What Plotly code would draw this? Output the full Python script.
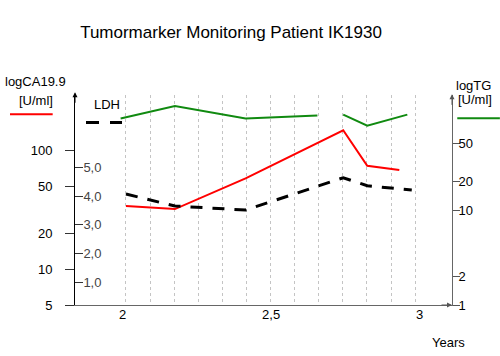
import plotly.graph_objects as go

# ---- data ----
ca_years = [2.011, 2.176, 2.414, 2.743, 2.824, 2.932]
ca_values = [34, 32, 58, 147, 74, 68]

ldh_years = [2.011, 2.176, 2.414, 2.743, 2.824, 2.974]
ldh_values = [4.08, 3.66, 3.52, 4.65, 4.37, 4.22]

tg_years = [1.993, 2.176, 2.414, 2.656, None, 2.743, 2.824, 2.959]
tg_values = [92, 124, 92, 99, None, 101, 77, 101]

grid_years = [2.011, 2.092, 2.173, 2.255, 2.336, 2.417, 2.498,
              2.579, 2.661, 2.742, 2.823, 2.904, 2.985]

x_ticks = [2, 2.5, 3]
ca_ticks = [5, 10, 20, 50, 100]
ldh_ticks = [1, 2, 3, 4, 5]
tg_ticks = [1, 2, 10, 20, 50]

FONT = "Liberation Sans, Arial, sans-serif"

fig = go.Figure()
fig.add_trace(go.Scatter(x=ca_years, y=ca_values, mode="lines",
                         line=dict(color="#ff0000", width=2), yaxis="y"))
fig.add_trace(go.Scatter(x=ldh_years, y=ldh_values, mode="lines",
                         line=dict(color="#000000", width=3, dash="12px,10px"), yaxis="y2"))
fig.add_trace(go.Scatter(x=tg_years, y=tg_values, mode="lines", connectgaps=False,
                         line=dict(color="#108a10", width=2), yaxis="y3"))

fig.update_layout(
    width=500, height=356,
    margin=dict(l=75, r=48, t=95, b=51),
    paper_bgcolor="white", plot_bgcolor="white",
    showlegend=False,
    separators=",.",
    font=dict(family=FONT, size=13, color="black"),
    title=dict(text="Tumormarker Monitoring Patient IK1930", x=0.462, xref="container",
               xanchor="center", y=0.91, yref="container", yanchor="middle",
               font=dict(size=17, family=FONT, color="black")),
    xaxis=dict(range=[1.8393, 3.1095], tickmode="array", tickvals=x_ticks,
               ticks="", showgrid=False, zeroline=False,
               showline=True, linecolor="#666", linewidth=1,
               automargin=False, ticklabelstandoff=-3,
               minor=dict(tickmode="array", tickvals=grid_years, showgrid=True,
                          gridcolor="#c4c4c4", griddash="dot", gridwidth=1, ticks="")),
    yaxis=dict(type="log", range=[0.69897, 0.69897 + 210 / 119], tickmode="array",
               tickvals=ca_ticks, ticktext=[str(v) for v in ca_ticks],
               ticks="outside", ticklen=9, tickcolor="#333", showgrid=False,
               zeroline=False, showline=True, linecolor="#000", linewidth=1,
               automargin=False, ticklabelstandoff=10),
    yaxis2=dict(range=[0.2, 7.543], overlaying="y", side="left", anchor="x",
                tickmode="array", tickvals=ldh_ticks, tickformat=".1f",
                ticks="inside", ticklen=8, tickcolor="#333", ticklabelposition="inside",
                showgrid=False, zeroline=False, showline=False, automargin=False),
    yaxis3=dict(type="log", range=[0, 210 / 95], overlaying="y", side="right", anchor="x",
                tickmode="array", tickvals=tg_ticks, ticktext=[str(v) for v in tg_ticks],
                ticks="outside", ticklen=7, tickcolor="#555", showgrid=False,
                zeroline=False, showline=True, linecolor="#666", linewidth=1,
                automargin=False, ticklabelstandoff=-4),
)

# axis arrows
arrow = dict(xref="paper", yref="paper", text="", showarrow=True, arrowhead=2,
             arrowsize=1, arrowwidth=1, axref="pixel", ayref="pixel")
fig.add_annotation(x=0, y=1.013, ax=0, ay=12, arrowcolor="#000", **arrow)
fig.add_annotation(x=1, y=1.003, ax=0, ay=12, arrowcolor="#555", **arrow)
fig.add_annotation(x=1, y=0, ax=-12, ay=0, arrowcolor="#555", **arrow)

# legend-like labels
txt = dict(xref="paper", yref="paper", showarrow=False, xanchor="center",
           yanchor="middle", font=dict(size=13, family=FONT))
fig.add_annotation(x=-0.106, y=1.062, text="logCA19.9", **txt)
fig.add_annotation(x=-0.103, y=0.976, text="[U/ml]", **txt)
fig.add_annotation(x=0.0862, y=0.955, text="LDH", **txt)
fig.add_annotation(x=1.0576, y=1.043, text="logTG", **txt)
fig.add_annotation(x=1.061, y=0.979, text="[U/ml]", **txt)
fig.add_annotation(x=0.992, y=-0.1786, text="Years", **txt)

fig.add_shape(type="line", xref="paper", yref="paper", x0=-0.1724, x1=-0.0592,
              y0=0.908, y1=0.908, line=dict(color="#ff0000", width=2))
fig.add_shape(type="line", xref="paper", yref="paper", x0=0.0292, x1=0.1247,
              y0=0.869, y1=0.869, line=dict(color="#000", width=3, dash="13px,11px"))
fig.add_shape(type="line", xref="paper", yref="paper", x0=1.014, x1=1.127,
              y0=0.889, y1=0.889, line=dict(color="#108a10", width=2))

fig.write_html("out.html", config={"displayModeBar": False},
               post_script="document.body.style.margin='0';document.body.style.overflow='hidden';")
